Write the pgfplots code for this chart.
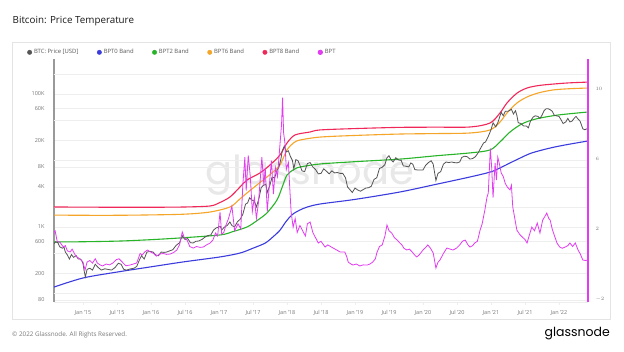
\documentclass[border=0pt]{standalone}
\usepackage{fontspec}
\setmainfont{Open Sans}
\newfontfamily\pop{Poppins}
\usepackage{pgfplots}
\pgfplotsset{compat=1.18}
\definecolor{pricecol}{RGB}{85,85,85}
\definecolor{bluecol}{RGB}{60,60,222}
\definecolor{greencol}{RGB}{40,180,40}
\definecolor{orangecol}{RGB}{245,165,40}
\definecolor{redcol}{RGB}{240,40,90}
\definecolor{bptcol}{RGB}{226,60,240}
\definecolor{tickgray}{RGB}{120,120,120}
\definecolor{panelgray}{RGB}{228,228,228}
\definecolor{gridgray}{RGB}{238,238,238}
\begin{document}
\begin{tikzpicture}[x=1pt,y=1pt]
\fill[white] (0,0) rectangle (624,351);
\node[anchor=west,inner sep=0pt,text=black!90,font=\fontsize{9.8}{11}\selectfont] at (12.5,329.5) {Bitcoin: Price Temperature};
\draw[panelgray,line width=0.6pt] (12,309) rectangle (610,32);
\node[anchor=west,inner sep=0pt,text=tickgray,font=\fontsize{6.3}{7}\selectfont] at (12,16) {\textcopyright{} 2022 Glassnode. All Rights Reserved.};
\node[anchor=east,inner sep=0pt,text=black,font=\pop\fontsize{12.5}{13}\selectfont] at (610,17) {glassnode};
\node[inner sep=0pt,text=black!9,font=\pop\fontsize{40}{42}\selectfont] at (310,176) {glassnode};
\begin{axis}[
  at={(54pt,49pt)}, anchor=south west,
  scale only axis, width=534pt, height=243pt,
  xmin=2014.5735, xmax=2022.4265,
  ymode=log, ymin=74.5, ymax=336000,
  axis x line*=bottom, axis y line*=left,
  x axis line style={gridgray, line width=0.6pt},
  y axis line style={black!40, line width=1.4pt},
  xtick={2015,2015.5,2016,2016.5,2017,2017.5,2018,2018.5,2019,2019.5,2020,2020.5,2021,2021.5,2022},
  xticklabels={Jan '15,Jul '15,Jan '16,Jul '16,Jan '17,Jul '17,Jan '18,Jul '18,Jan '19,Jul '19,Jan '20,Jul '20,Jan '21,Jul '21,Jan '22},
  x tick style={gridgray, line width=0.6pt}, tick align=outside, major tick length=3pt,
  ytick={80,200,600,1000,4000,8000,20000,60000,100000},
  yticklabels={80,200,600,1K,4K,8K,20K,60K,100K},
  y tick style={draw=none},
  ymajorgrids, major grid style={gridgray, line width=0.5pt},
  extra y ticks={100,400,2000,10000,40000,200000}, extra y tick labels={},
  extra y tick style={grid=major, major grid style={gridgray, line width=0.5pt}, tick style={draw=none}},
  tick label style={font=\fontsize{5.5}{6}\selectfont, text=tickgray},
  yticklabel style={xshift=-3pt},
  xticklabel style={yshift=-2pt},
  clip=true,
]
\addplot[bluecol, line width=1.1pt, smooth] coordinates {
(2014.574,125)(2015.0,171)(2015.5,210)(2015.98,250)(2016.47,298)(2017.01,354)(2017.31,406)(2017.5,480)(2017.68,574)(2017.8,720)(2017.9,902)(2017.97,1150)(2018.04,1410)(2018.1,1600)(2018.19,1800)(2018.3,2000)(2018.49,2220)(2019.0,2600)(2019.66,3360)(2020.2,4400)(2020.69,5650)(2020.99,6710)(2021.13,7710)(2021.3,9400)(2021.43,10900)(2021.6,13000)(2021.87,15400)(2022.1,17200)(2022.43,19700)};
\addplot[greencol, line width=1.1pt, smooth] coordinates {
(2014.574,595)(2015.0,600)(2015.544,615)(2016.0,645)(2016.426,684)(2017.015,759)(2017.2,850)(2017.412,1000)(2017.56,1250)(2017.706,1630)(2017.853,2550)(2017.93,4000)(2018.0,6050)(2018.1,7300)(2018.191,7980)(2018.485,8860)(2019.0,9600)(2019.662,10500)(2020.2,11800)(2020.691,13000)(2020.985,14400)(2021.132,19000)(2021.279,26800)(2021.426,34200)(2021.55,39000)(2021.721,43500)(2022.0,48500)(2022.426,53600)};
\addplot[orangecol, line width=1.1pt, smooth] coordinates {
(2014.574,1510)(2015.0,1500)(2015.5,1500)(2016.0,1520)(2016.5,1560)(2016.868,1680)(2017.162,2000)(2017.3,2600)(2017.412,3250)(2017.56,4300)(2017.706,5650)(2017.8,6800)(2017.897,8560)(2018.0,14400)(2018.1,18500)(2018.191,20300)(2018.485,22500)(2019.0,23800)(2019.662,25000)(2020.2,25400)(2020.691,25900)(2020.985,28800)(2021.132,37900)(2021.235,51800)(2021.382,73300)(2021.529,90100)(2021.7,104000)(2021.912,115000)(2022.15,120000)(2022.426,123000)};
\addplot[redcol, line width=1.1pt, smooth] coordinates {
(2014.574,2000)(2015.0,1990)(2015.5,1980)(2016.0,1980)(2016.5,2000)(2016.868,2070)(2017.0,2300)(2017.162,2830)(2017.309,4000)(2017.412,5090)(2017.603,6500)(2017.75,8560)(2017.897,12100)(2018.0,18300)(2018.118,24200)(2018.338,26800)(2018.485,28800)(2019.0,30200)(2019.662,31500)(2020.2,31700)(2020.691,31900)(2020.985,36600)(2021.132,51800)(2021.235,73300)(2021.382,103000)(2021.529,123000)(2021.7,134000)(2021.912,141000)(2022.15,147000)(2022.426,151000)};
\addplot[pricecol, line width=0.8pt] coordinates {
(2014.57,560)(2014.60,600)(2014.63,580)(2014.66,500)(2014.70,480)(2014.72,500)(2014.74,420)(2014.77,380)(2014.80,330)(2014.83,385)(2014.86,350)(2014.90,370)(2014.93,330)(2014.96,330)(2014.98,315)(2015.00,280)(2015.02,210)(2015.035,178)(2015.06,230)(2015.10,240)(2015.14,225)(2015.18,275)(2015.22,248)(2015.27,225)(2015.32,235)(2015.37,230)(2015.42,225)(2015.47,245)(2015.52,285)(2015.56,275)(2015.60,230)(2015.64,225)(2015.70,235)(2015.75,240)(2015.79,255)(2015.83,320)(2015.86,370)(2015.90,330)(2015.94,420)(2015.99,430)(2016.03,420)(2016.07,380)(2016.11,370)(2016.15,420)(2016.19,415)(2016.23,420)(2016.28,440)(2016.32,455)(2016.37,530)(2016.42,580)(2016.46,740)(2016.50,650)(2016.54,670)(2016.58,580)(2016.62,575)(2016.66,610)(2016.70,615)(2016.75,650)(2016.79,700)(2016.83,740)(2016.88,760)(2016.92,900)(2016.96,970)(2017.00,1000)
(2017.02,1020)(2017.04,900)(2017.08,1000)(2017.12,1050)(2017.16,1190)(2017.19,1050)(2017.23,1000)(2017.27,1200)(2017.31,1300)(2017.35,1550)(2017.39,2200)(2017.42,2300)(2017.45,2750)(2017.48,2550)(2017.52,2450)(2017.55,2000)(2017.59,2750)(2017.62,3900)(2017.65,4200)(2017.69,4400)(2017.71,3300)(2017.75,4300)(2017.78,5600)(2017.82,5500)(2017.85,7000)(2017.88,7900)(2017.91,10500)(2017.93,14000)(2017.96,16500)(2017.99,13500)(2018.02,14000)(2018.05,11500)(2018.08,10000)(2018.10,7500)(2018.13,10300)(2018.16,10000)(2018.19,8500)(2018.22,7000)(2018.26,6800)(2018.30,9000)(2018.34,9300)(2018.38,8000)(2018.42,7300)(2018.46,6300)(2018.50,6400)(2018.54,7500)(2018.58,6900)(2018.62,6300)(2018.66,7000)(2018.70,6500)(2018.74,6600)(2018.78,6400)(2018.82,6400)(2018.86,5500)(2018.89,4000)(2018.92,3700)(2018.96,3300)(2019.00,3850)(2019.04,3600)(2019.08,3450)(2019.12,3650)(2019.16,3850)(2019.20,3900)(2019.24,4100)(2019.28,5200)(2019.32,5500)(2019.36,7600)(2019.40,7900)(2019.44,8700)(2019.47,11000)(2019.50,11800)(2019.53,10300)(2019.56,9500)(2019.60,11000)(2019.64,10200)(2019.68,10000)(2019.71,8300)(2019.75,8200)(2019.79,8000)(2019.82,9200)(2019.85,8800)(2019.88,7300)(2019.92,7200)(2019.96,7200)(2020.00,7200)(2020.04,8500)(2020.08,9300)(2020.12,9900)(2020.15,8800)(2020.19,5000)(2020.22,6400)(2020.26,6800)(2020.30,8800)(2020.34,9500)(2020.38,9300)(2020.42,9500)(2020.46,9300)(2020.50,9200)(2020.54,9500)(2020.57,11100)(2020.61,11600)(2020.65,11400)(2020.69,10500)(2020.73,10700)(2020.77,11400)(2020.81,13000)(2020.85,15500)(2020.89,18300)(2020.92,19000)(2020.96,23000)(2021.00,29000)(2021.03,37000)(2021.07,32000)(2021.10,37000)(2021.13,46000)(2021.15,53000)(2021.18,47000)(2021.21,55000)(2021.25,55000)(2021.28,57000)(2021.30,59000)(2021.33,50000)(2021.36,56000)(2021.38,48000)(2021.40,37000)(2021.44,36000)(2021.48,33000)(2021.52,33000)(2021.55,31000)(2021.58,39000)(2021.62,45000)(2021.65,47000)(2021.69,46000)(2021.72,43000)(2021.75,48000)(2021.78,56000)(2021.81,60000)(2021.84,60000)(2021.87,58000)(2021.90,55000)(2021.93,48000)(2021.96,47000)(2022.00,46000)(2022.03,41000)(2022.06,36000)(2022.10,38000)(2022.13,43000)(2022.16,38000)(2022.19,39000)(2022.23,44000)(2022.25,46000)(2022.28,42000)(2022.31,39000)(2022.35,30000)(2022.38,29000)(2022.41,30000)(2022.425,29500)};
\end{axis}
\begin{axis}[
  at={(54pt,49pt)}, anchor=south west,
  scale only axis, width=534pt, height=243pt,
  xmin=2014.5735, xmax=2022.4265,
  ymin=-2.171, ymax=11.714,
  axis x line=none, axis y line*=right,
  y axis line style={bptcol, line width=1.4pt},
  ytick={-2,2,6,10},
  y tick style={draw=none},
  tick label style={font=\fontsize{5.5}{6}\selectfont, text=tickgray},
  yticklabel style={xshift=4pt},
  legend columns=-1,
  legend style={at={(-0.0505,1.0275)}, anchor=west, draw=none, fill=none, inner sep=0pt,
    font=\fontsize{5.9}{6.5}\selectfont, text=black!65,
    /tikz/every even column/.append style={column sep=16.5pt}},
  legend image code/.code={\fill (2.2pt,0pt) circle (2.2pt);},
  legend cell align=left,
  clip=true,
]
\addlegendimage{pricecol}\addlegendentry{BTC: Price [USD]}
\addlegendimage{bluecol}\addlegendentry{BPT0 Band}
\addlegendimage{greencol}\addlegendentry{BPT2 Band}
\addlegendimage{orangecol}\addlegendentry{BPT6 Band}
\addlegendimage{redcol}\addlegendentry{BPT8 Band}
\addplot[bptcol, line width=0.8pt] coordinates {
(2014.56,1.77)(2014.59,1.9)(2014.62,1.3)(2014.66,1.25)(2014.71,0.97)(2014.74,1.05)(2014.77,0.75)(2014.81,0.69)(2014.84,0.85)(2014.88,0.55)(2014.91,0.40)(2014.95,0.3)(2015.00,0.11)(2015.03,-0.34)(2015.06,0.11)(2015.10,0.2)(2015.14,0.05)(2015.18,0.3)(2015.21,0.06)(2015.25,-0.05)(2015.29,-0.11)(2015.34,0.0)(2015.39,-0.05)(2015.44,0.06)(2015.49,0.25)(2015.53,0.3)(2015.59,0.06)(2015.63,-0.1)(2015.69,-0.06)(2015.74,0.0)(2015.79,0.06)(2015.84,0.6)(2015.87,0.51)(2015.91,0.7)(2015.95,0.8)(2015.99,0.69)(2016.04,0.6)(2016.08,0.45)(2016.13,0.57)(2016.18,0.6)(2016.23,0.55)(2016.28,0.57)(2016.33,0.65)(2016.38,0.8)(2016.42,1.1)(2016.46,1.83)(2016.49,1.5)(2016.53,1.37)(2016.57,1.0)(2016.62,0.91)(2016.67,1.0)(2016.72,0.95)(2016.77,0.97)(2016.82,1.1)(2016.87,1.2)(2016.91,1.37)(2016.95,1.77)(2016.98,1.6)(2017.015,2.97)(2017.04,1.7)(2017.07,1.8)(2017.10,2.2)(2017.14,2.6)(2017.19,3.3)(2017.23,1.9)(2017.28,2.3)(2017.32,2.0)(2017.35,4.5)(2017.38,6.1)(2017.40,4.2)(2017.43,6.2)(2017.46,5.0)(2017.49,3.0)(2017.52,3.8)(2017.55,2.6)(2017.58,3.5)(2017.61,5.0)(2017.63,6.1)(2017.66,4.5)(2017.68,5.5)(2017.71,3.0)(2017.74,4.5)(2017.77,5.9)(2017.80,4.0)(2017.83,5.5)(2017.86,5.0)(2017.89,6.5)(2017.92,8.0)(2017.935,9.5)(2017.95,7.5)(2017.97,6.9)(2017.99,5.4)(2018.02,5.8)(2018.04,4.4)(2018.06,3.0)(2018.09,2.1)(2018.12,2.6)(2018.15,1.8)(2018.19,2.2)(2018.23,1.9)(2018.27,1.6)(2018.30,2.3)(2018.34,2.4)(2018.38,1.8)(2018.42,1.5)(2018.46,1.2)(2018.50,1.3)(2018.56,0.97)(2018.60,1.09)(2018.64,1.0)(2018.68,0.91)(2018.73,0.8)(2018.78,0.69)(2018.85,0.69)(2018.88,0.4)(2018.90,0.11)(2018.94,0.0)(2018.97,-0.06)(2019.02,0.0)(2019.07,-0.11)(2019.12,-0.05)(2019.18,-0.06)(2019.22,0.0)(2019.26,0.11)(2019.30,0.3)(2019.32,0.63)(2019.36,1.0)(2019.40,1.09)(2019.44,1.6)(2019.47,2.23)(2019.50,1.9)(2019.54,1.77)(2019.58,1.5)(2019.62,1.37)(2019.66,1.2)(2019.69,1.09)(2019.72,0.9)(2019.76,0.8)(2019.80,0.85)(2019.84,0.69)(2019.88,0.5)(2019.91,0.4)(2019.95,0.55)(2020.0,0.8)(2020.04,0.95)(2020.07,1.09)(2020.11,0.9)(2020.15,0.63)(2020.19,-0.23)(2020.22,0.1)(2020.25,0.23)(2020.30,0.6)(2020.35,0.91)(2020.40,0.85)(2020.44,0.8)(2020.49,0.9)(2020.54,1.09)(2020.58,1.3)(2020.62,1.37)(2020.66,1.1)(2020.69,0.97)(2020.73,1.05)(2020.76,1.2)(2020.80,1.3)(2020.84,1.94)(2020.87,2.3)(2020.91,3.09)(2020.94,3.8)(2020.96,4.06)(2020.99,6.6)(2021.01,5.5)(2021.03,3.8)(2021.06,5.77)(2021.08,4.8)(2021.10,6.1)(2021.13,5.6)(2021.15,5.2)(2021.18,5.0)(2021.21,4.6)(2021.24,4.4)(2021.28,4.23)(2021.30,4.5)(2021.32,3.26)(2021.35,2.6)(2021.38,1.94)(2021.42,1.7)(2021.46,1.54)(2021.50,1.4)(2021.53,1.2)(2021.56,1.6)(2021.60,2.11)(2021.64,1.9)(2021.68,2.34)(2021.72,1.77)(2021.76,2.51)(2021.79,2.7)(2021.82,2.91)(2021.85,2.6)(2021.87,2.51)(2021.90,2.0)(2021.94,1.54)(2021.97,1.2)(2022.01,0.97)(2022.05,0.9)(2022.09,0.97)(2022.13,1.05)(2022.16,1.2)(2022.20,1.0)(2022.24,1.2)(2022.28,0.8)(2022.31,0.6)(2022.35,0.23)(2022.39,0.2)(2022.425,0.23)};
\addlegendentry{BPT}
\end{axis}
\end{tikzpicture}
\end{document}
